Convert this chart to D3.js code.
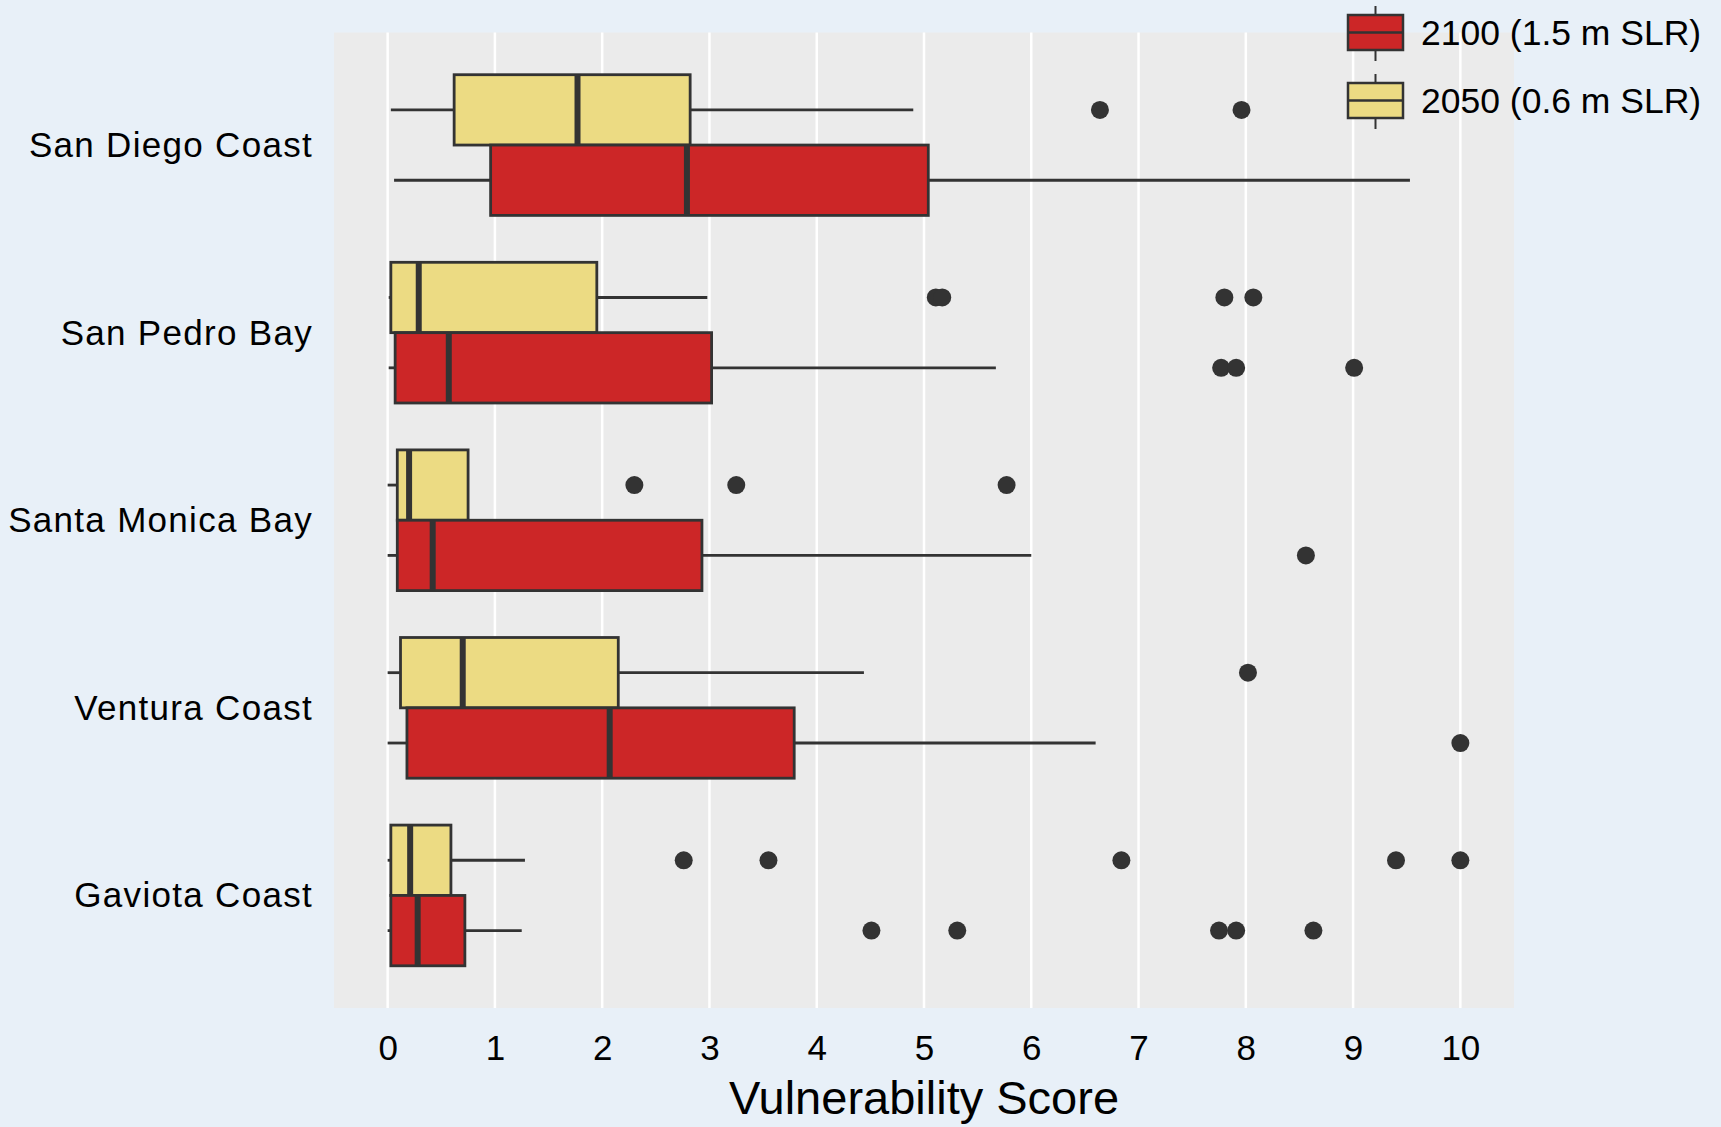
<!DOCTYPE html>
<html>
<head>
<meta charset="utf-8">
<script src="https://cdn.jsdelivr.net/npm/d3@7"></script>
<style>
  html, body { margin: 0; padding: 0; background: #e8f0f8; }
  svg { display: block; }
  text { font-family: "Liberation Sans", Arial, sans-serif; fill: #000; }
</style>
</head>
<body>
<svg id="chart" width="1721" height="1127"></svg>
<script>
// ---------- data ----------
const categories = ["San Diego Coast", "San Pedro Bay", "Santa Monica Bay", "Ventura Coast", "Gaviota Coast"];
const seriesNames = ["2050 (0.6 m SLR)", "2100 (1.5 m SLR)"];
const seriesColors = ["#ecdb83", "#cc2627"];
const xTicks = [0, 1, 2, 3, 4, 5, 6, 7, 8, 9, 10];
const legendOrder = ["2100 (1.5 m SLR)", "2050 (0.6 m SLR)"];

// [lower whisker, q1, median, q3, upper whisker]
const stats2050 = [
  [0.03, 0.62, 1.77, 2.82, 4.90],
  [0.01, 0.03, 0.29, 1.95, 2.98],
  [0.00, 0.09, 0.20, 0.75, 0.75],
  [0.00, 0.12, 0.70, 2.15, 4.44],
  [0.00, 0.03, 0.21, 0.59, 1.28]
];
const stats2100 = [
  [0.06, 0.96, 2.79, 5.04, 9.53],
  [0.01, 0.07, 0.57, 3.02, 5.67],
  [0.00, 0.09, 0.42, 2.93, 6.00],
  [0.00, 0.18, 2.07, 3.79, 6.60],
  [0.00, 0.03, 0.28, 0.72, 1.25]
];
const outliers2050 = [
  [6.64, 7.96],
  [5.11, 5.17, 7.80, 8.07],
  [2.30, 3.25, 5.77],
  [8.02],
  [2.76, 3.55, 6.84, 9.40, 10.0]
];
const outliers2100 = [
  [],
  [7.77, 7.91, 9.01],
  [8.56],
  [10.0],
  [4.51, 5.31, 7.75, 7.91, 8.63]
];

// ---------- layout ----------
const svg = d3.select("#chart");
const panel = { left: 334, right: 1514, top: 32.5, bottom: 1008 };
const outline = "#333333";

const x = d3.scaleLinear().domain([-0.5, 10.5]).range([panel.left, panel.right]);
const y = d3.scaleLinear().domain([0.4, categories.length + 0.6]).range([panel.top, panel.bottom]);
const dodge = 0.1875; // quarter of total width 0.75
const half = 0.1875;

svg.append("rect")
  .attr("x", panel.left).attr("y", panel.top)
  .attr("width", panel.right - panel.left).attr("height", panel.bottom - panel.top)
  .attr("fill", "#ebebeb");

// grid
svg.append("g").selectAll("line").data(xTicks).join("line")
  .attr("x1", d => x(d)).attr("x2", d => x(d))
  .attr("y1", panel.top).attr("y2", panel.bottom)
  .attr("stroke", "#ffffff").attr("stroke-width", 2.5);

// x axis labels
const xAxis = d3.axisBottom(x).tickValues(xTicks).tickSize(0).tickPadding(0).tickFormat(d3.format("d"));
const gx = svg.append("g").attr("transform", `translate(0,${panel.bottom})`).call(xAxis);
gx.select(".domain").remove();
gx.selectAll("text")
  .attr("dy", null).attr("y", 52)
  .style("font-size", "35px").style("font-family", "'Liberation Sans', Arial, sans-serif").attr("fill", "#000");

svg.append("text")
  .attr("x", (panel.left + panel.right) / 2).attr("y", 1114)
  .attr("text-anchor", "middle")
  .style("font-size", "47px")
  .text("Vulnerability Score");

// y labels
svg.append("g").selectAll("text").data(categories).join("text")
  .attr("x", 313).attr("y", (d, i) => y(i + 1) + 12)
  .attr("text-anchor", "end")
  .style("font-size", "35px").style("letter-spacing", "1.3px")
  .text(d => d);

// boxes
const allStats = [stats2050, stats2100];
const allOut = [outliers2050, outliers2100];
const offsets = [-dodge, dodge];

const gBoxes = svg.append("g");
allStats.forEach((stats, s) => {
  stats.forEach((st, i) => {
    const c = i + 1 + offsets[s];
    const [lo, q1, med, q3, hi] = st;
    const g = gBoxes.append("g");
    g.append("line").attr("x1", x(lo)).attr("x2", x(q1)).attr("y1", y(c)).attr("y2", y(c))
      .attr("stroke", outline).attr("stroke-width", 2.8);
    g.append("line").attr("x1", x(q3)).attr("x2", x(hi)).attr("y1", y(c)).attr("y2", y(c))
      .attr("stroke", outline).attr("stroke-width", 2.8);
    g.append("rect")
      .attr("x", x(q1)).attr("width", x(q3) - x(q1))
      .attr("y", y(c - half)).attr("height", y(c + half) - y(c - half))
      .attr("fill", seriesColors[s]).attr("stroke", outline).attr("stroke-width", 2.8);
    g.append("line").attr("x1", x(med)).attr("x2", x(med))
      .attr("y1", y(c - half)).attr("y2", y(c + half))
      .attr("stroke", outline).attr("stroke-width", 6);
    g.selectAll("circle").data(allOut[s][i]).join("circle")
      .attr("cx", d => x(d)).attr("cy", y(c)).attr("r", 9)
      .attr("fill", outline);
  });
});

// legend
const leg = svg.append("g");
legendOrder.forEach((name, k) => {
  const s = seriesNames.indexOf(name);
  const top = 15 + k * 68, h = 35, kx = 1348, kw = 55;
  const cx = kx + kw / 2;
  leg.append("line").attr("x1", cx).attr("x2", cx).attr("y1", top - 9).attr("y2", top + h + 11)
    .attr("stroke", outline).attr("stroke-width", 2);
  leg.append("rect").attr("x", kx).attr("y", top).attr("width", kw).attr("height", h)
    .attr("fill", seriesColors[s]).attr("stroke", outline).attr("stroke-width", 2.5);
  leg.append("line").attr("x1", kx).attr("x2", kx + kw).attr("y1", top + h / 2).attr("y2", top + h / 2)
    .attr("stroke", outline).attr("stroke-width", 2.5);
  leg.append("text").attr("x", 1421).attr("y", top + h / 2 + 12)
    .style("font-size", "35.5px")
    .text(name);
});
</script>
</body>
</html>
